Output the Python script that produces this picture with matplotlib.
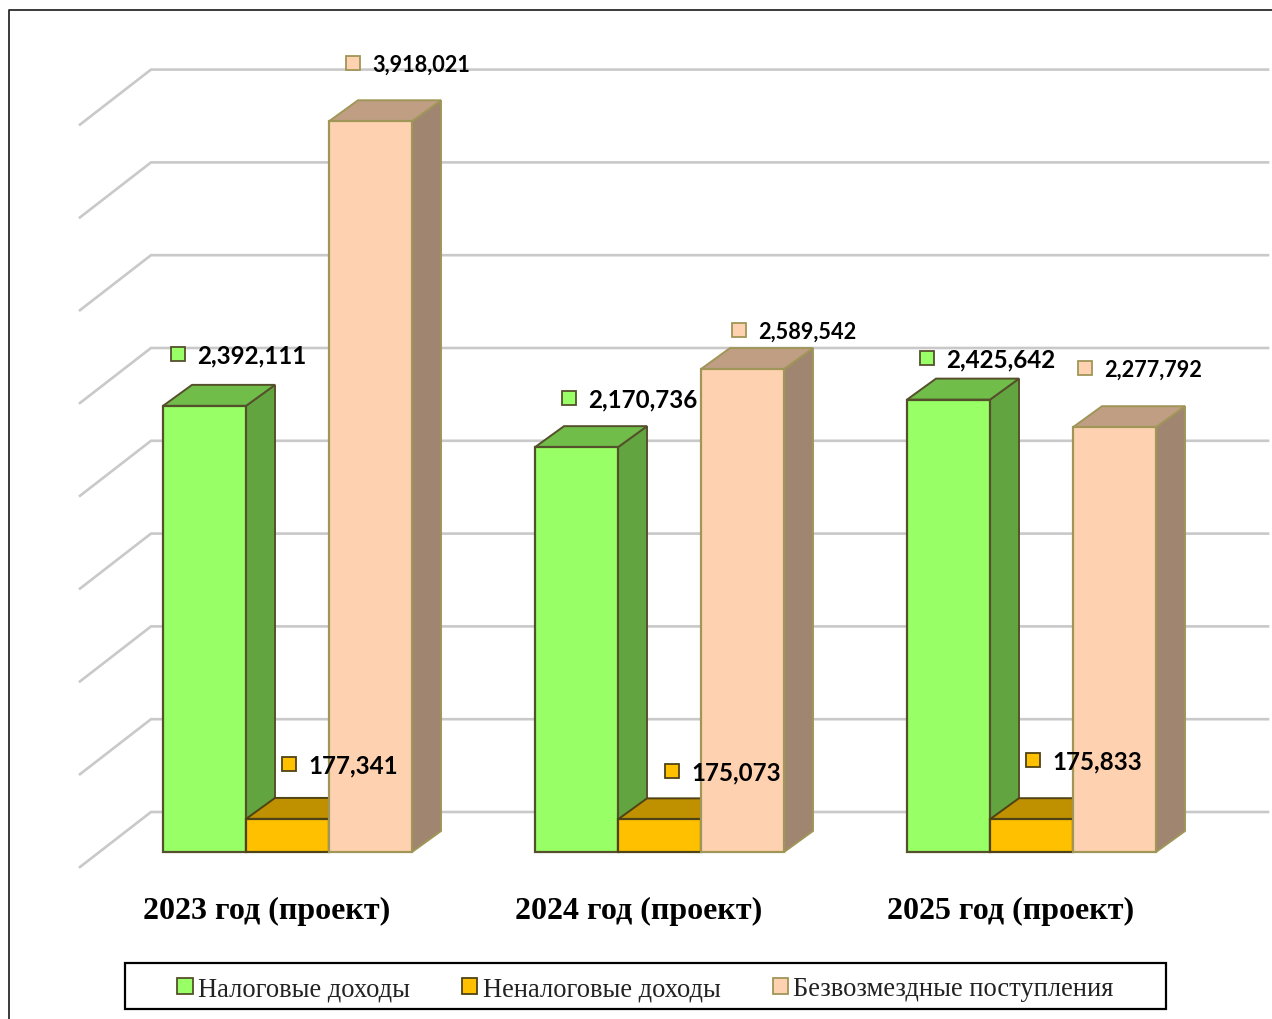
import numpy as np
import matplotlib
matplotlib.use("Agg")
import matplotlib.pyplot as plt
from matplotlib.patches import Polygon, Patch, Rectangle

# data
years = ["2023 год (проект)", "2024 год (проект)", "2025 год (проект)"]
series = ["Налоговые доходы", "Неналоговые доходы", "Безвозмездные поступления"]
tax = [2392111, 2170736, 2425642]
nontax = [177341, 175073, 175833]
grants = [3918021, 2589542, 2277792]
grid_values = np.arange(0, 4000001, 500000)

# front / side / top / edge
colors = [
    ("#99ff66", "#62a540", "#70bd4a", "#55502c"),
    ("#ffc000", "#bf9000", "#bf9000", "#4f4214"),
    ("#fed2b0", "#a08570", "#bf9e84", "#a09658"),
]

W, H = 1272, 1020
BASE = 853              # pixel row of value 0
SCALE = 186.5e-6        # pixels per unit
DX, DY = 29, 21 / SCALE
BAR_W = 83
group_left = [163, 535, 907]

fig = plt.figure(figsize=(W / 100, H / 100), dpi=100)
ax = fig.add_axes([0, 0, 1, 1])
ax.set_xlim(0, W)
ax.set_ylim((BASE - H) / SCALE, BASE / SCALE)
ax.axis("off")


def px(x, y):
    return x / W, 1 - y / H


# frame of the picture
fig.add_artist(plt.Line2D([8.5 / W, 8.5 / W, 1], [0, 1 - 10.5 / H, 1 - 10.5 / H], color="#2b2b2b", lw=1.3))

# walls: the grid lines run along the back and down the side
for v in grid_values:
    back = v * 0.9952 + 40 / SCALE
    front = v * 0.9952 - 15 / SCALE
    ax.plot([80, 151, 1268], [front, back, back], color="#c9c9c9", lw=1.9, zorder=1,
            solid_joinstyle="miter")


def draw_bar(x, value, cols, z):
    front, side, top, edge = cols
    ax.bar(x, value, BAR_W, align="edge", color=front, edgecolor=edge, lw=1.6, zorder=z + 0.2)
    ax.add_patch(Polygon([(x + BAR_W, 0), (x + BAR_W + DX, DY), (x + BAR_W + DX, value + DY), (x + BAR_W, value)],
                         facecolor=side, edgecolor=edge, lw=1.4, zorder=z))
    ax.add_patch(Polygon([(x, value), (x + DX, value + DY), (x + BAR_W + DX, value + DY), (x + BAR_W, value)],
                         facecolor=top, edgecolor=edge, lw=1.4, zorder=z + 0.1))


for i, left in enumerate(group_left):
    for j, vals in enumerate([tax, nontax, grants]):
        draw_bar(left + j * BAR_W, vals[i], colors[j], 2 + j)

# category names under the groups
for left, name in zip(group_left, years):
    fig.text(*px(left + 104, 911), name, family="Liberation Serif", weight="bold", fontsize=23,
             ha="center", va="center", color="black")

# value labels, marker and text positions in pixels
label_pos = [
    [(178, 355), (289, 765), (353, 64)],
    [(569, 399), (672, 772), (739, 331)],
    [(927, 359), (1033, 761), (1085, 369)],
]
label_size = [17.4, 17.4, 15.6]
for i in range(3):
    for j, vals in enumerate([tax, nontax, grants]):
        mx, my = label_pos[i][j]
        fig.add_artist(plt.Line2D([mx / W], [1 - my / H], marker="s", ms=10.5, mfc=colors[j][0],
                                  mec=colors[j][3], mew=1.3, ls="none"))
        fig.text(*px(mx + 19.5, my + 1), f"{vals[i]:,}", family="Lato", weight="bold", fontsize=label_size[j],
                 ha="left", va="center", color="black")

# legend, the box is drawn apart because its side padding is wider than the vertical one
fig.add_artist(Rectangle((125 / W, 1 - 1010 / H), 1041 / W, 46 / H, transform=fig.transFigure,
                         facecolor="white", edgecolor="black", lw=1.6))
handles = [Patch(facecolor=c[0], edgecolor=c[3], lw=1.3) for c in colors]
leg = fig.legend(handles, series, ncol=3, loc="center", bbox_to_anchor=px(645.5, 990),
                 prop={"family": "Liberation Serif", "size": 19.1}, frameon=False,
                 labelcolor="#222222", handlelength=0.57, handleheight=0.57,
                 handletextpad=0.2, columnspacing=1.97, borderpad=0)
leg.set_zorder(6)

fig.savefig("out.png", dpi=100)
